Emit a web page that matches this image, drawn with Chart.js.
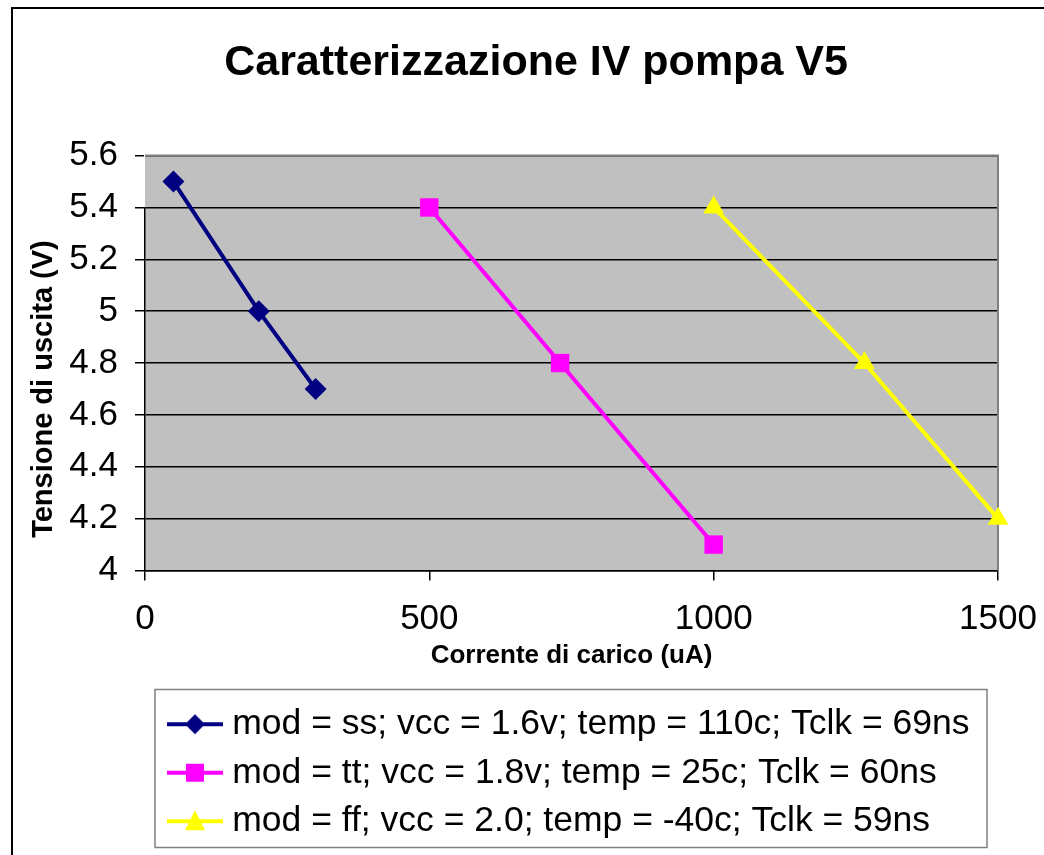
<!DOCTYPE html>
<html>
<head>
<meta charset="utf-8">
<script src="https://cdn.jsdelivr.net/npm/chart.js@4.4.1/dist/chart.umd.min.js"></script>
<style>
  html, body { margin: 0; padding: 0; background: #fff; }
</style>
</head>
<body>
<canvas id="chart" width="1044" height="855"></canvas>
<script>
const seriesNames = [
  'mod = ss; vcc = 1.6v; temp = 110c; Tclk = 69ns',
  'mod = tt; vcc = 1.8v; temp = 25c; Tclk = 60ns',
  'mod = ff; vcc = 2.0; temp = -40c; Tclk = 59ns'
];
const ssCurrent = [50, 200, 300];
const ssVoltage = [5.5, 5.0, 4.7];
const ttCurrent = [500, 730, 1000];
const ttVoltage = [5.4, 4.8, 4.1];
const ffCurrent = [1000, 1265, 1500];
const ffVoltage = [5.4, 4.8, 4.2];
const xTickLabels = ['0', '500', '1000', '1500'];
const yTickLabels = ['4', '4.2', '4.4', '4.6', '4.8', '5', '5.2', '5.4', '5.6'];

const FONT = 'Liberation Sans';
const colors = ['#000080', '#FF00FF', '#FFFF00'];
const styles = ['rectRot', 'rect', 'triangle'];
const radii = [11, 13, 12];

const toPoints = (xs, ys) => xs.map((x, i) => ({ x: x, y: ys[i] }));

// small picture of line + marker used as legend symbol
function legendIcon(color, style) {
  const c = document.createElement('canvas');
  c.width = 56; c.height = 30;
  const ctx = c.getContext('2d');
  ctx.strokeStyle = color;
  ctx.fillStyle = color;
  ctx.lineWidth = 4;
  ctx.beginPath(); ctx.moveTo(0, 15); ctx.lineTo(56, 15); ctx.stroke();
  ctx.beginPath();
  if (style === 'rectRot') {
    ctx.moveTo(28, 5); ctx.lineTo(38, 15); ctx.lineTo(28, 25); ctx.lineTo(18, 15);
  } else if (style === 'rect') {
    ctx.rect(19, 6, 18, 18);
  } else {
    ctx.moveTo(28, 4); ctx.lineTo(38, 24); ctx.lineTo(18, 24);
  }
  ctx.closePath();
  ctx.fill();
  return c;
}

const backdrop = {
  id: 'backdrop',
  afterLayout(chart) {
    // centre the title like the original, shift the legend rows
    // and move the y axis title a bit lower (as in the original)
    chart.titleBlock.left = 28;
    chart.titleBlock.right = 1044;
    chart.legend.left = 162.5;
    chart.scales.y.top += 52;
  },
  beforeDraw(chart) {
    const { ctx, chartArea: a } = chart;
    ctx.save();
    ctx.fillStyle = '#fff';
    ctx.fillRect(0, 0, chart.width, chart.height);
    ctx.strokeStyle = '#000';
    ctx.lineWidth = 2;
    ctx.strokeRect(12, 8, 1200, 1000);
    ctx.fillStyle = '#C0C0C0';
    ctx.fillRect(a.left, a.top, a.right - a.left, a.bottom - a.top);
    ctx.restore();
  },
  beforeDatasetsDraw(chart) {
    const { ctx, chartArea: a } = chart;
    ctx.save();
    ctx.strokeStyle = '#808080';
    ctx.lineWidth = 2;
    ctx.beginPath();
    ctx.moveTo(a.left, a.top); ctx.lineTo(a.right, a.top); ctx.lineTo(a.right, a.bottom);
    ctx.stroke();
    ctx.restore();
  },
  afterDraw(chart) {
    const { ctx } = chart;
    const l = chart.legend;
    ctx.save();
    ctx.strokeStyle = '#808080';
    ctx.lineWidth = 1.5;
    ctx.strokeRect(155, l.top - 4, 832, 158);
    ctx.restore();
  }
};

new Chart(document.getElementById('chart'), {
  type: 'line',
  data: {
    datasets: [
      { label: seriesNames[0], data: toPoints(ssCurrent, ssVoltage) },
      { label: seriesNames[1], data: toPoints(ttCurrent, ttVoltage) },
      { label: seriesNames[2], data: toPoints(ffCurrent, ffVoltage) }
    ].map((d, i) => Object.assign(d, {
      borderColor: colors[i],
      backgroundColor: colors[i],
      borderWidth: 4,
      pointStyle: styles[i],
      pointRadius: radii[i],
      pointBorderWidth: 0,
      pointHoverRadius: radii[i],
      clip: false
    }))
  },
  options: {
    responsive: false,
    animation: false,
    layout: { padding: { left: 15, right: 46, top: 0, bottom: 6 } },
    plugins: {
      tooltip: { enabled: false },
      title: {
        display: true,
        text: 'Caratterizzazione IV pompa V5',
        color: '#000',
        font: { family: FONT, size: 43, weight: 'bold' },
        padding: { top: 37, bottom: 67 }
      },
      legend: {
        position: 'bottom',
        align: 'start',
        fullSize: false,
        labels: {
          color: '#000',
          font: { family: FONT, size: 35.5 },
          padding: 13,
          usePointStyle: true,
          pointStyleWidth: 39,
          generateLabels: (chart) => chart.data.datasets.map((d, i) => ({
            text: d.label,
            datasetIndex: i,
            pointStyle: legendIcon(colors[i], styles[i]),
            fillStyle: colors[i],
            strokeStyle: colors[i],
            lineWidth: 0,
            hidden: false
          }))
        }
      }
    },
    scales: {
      x: {
        type: 'linear',
        min: 0,
        max: 1500,
        afterFit: (s) => { s.height = 123; s.paddingRight = 0; },
        ticks: {
          stepSize: 500,
          maxRotation: 0,
          padding: 18,
          color: '#000',
          font: { family: FONT, size: 35 },
          callback: (v, i) => xTickLabels[i]
        },
        grid: { drawOnChartArea: false, tickLength: 10, color: '#000', lineWidth: 1.5 },
        border: { color: '#000', width: 1.5 },
        title: {
          display: true,
          text: 'Corrente di carico (uA)',
          color: '#000',
          font: { family: FONT, size: 26, weight: 'bold' },
          padding: { top: 0, bottom: 22 }
        }
      },
      y: {
        min: 4,
        max: 5.6,
        afterFit: (s) => { s.width = 130; },
        ticks: {
          stepSize: 0.2,
          padding: 17,
          color: '#000',
          font: { family: FONT, size: 35 },
          callback: (v, i) => yTickLabels[i]
        },
        grid: { tickLength: 10, color: '#000', lineWidth: 1.5 },
        border: { color: '#000', width: 1.5 },
        title: {
          display: true,
          text: 'Tensione di uscita (V)',
          color: '#000',
          font: { family: FONT, size: 29, weight: 'bold' },
          padding: { top: 12, bottom: 0 }
        }
      }
    }
  },
  plugins: [backdrop]
});
</script>
</body>
</html>
